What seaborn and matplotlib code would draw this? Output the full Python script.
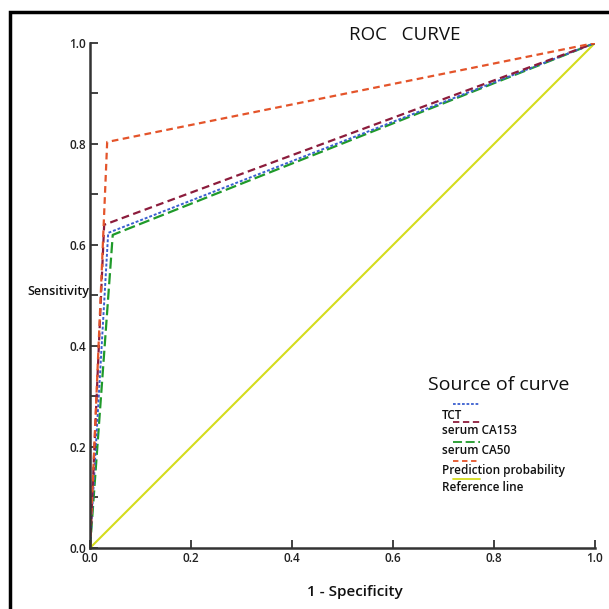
import numpy as np
import pandas as pd
import seaborn as sns
import matplotlib.pyplot as plt
from matplotlib.patches import Rectangle

# ROC points (1 - specificity, sensitivity)
tct_fpr = [0.0, 0.036, 1.0]
tct_tpr = [0.0, 0.624, 1.0]
ca153_fpr = [0.0, 0.028, 1.0]
ca153_tpr = [0.0, 0.640, 1.0]
ca50_fpr = [0.0, 0.045, 1.0]
ca50_tpr = [0.0, 0.620, 1.0]
pred_fpr = [0.0, 0.034, 1.0]
pred_tpr = [0.0, 0.804, 1.0]
ref_fpr = [0.0, 1.0]
ref_tpr = [0.0, 1.0]

names = ["TCT", "serum CA153", "serum CA50", "Prediction probability", "Reference line"]
xticks = [0.0, 0.2, 0.4, 0.6, 0.8, 1.0]
yticks = [0.0, 0.2, 0.4, 0.6, 0.8, 1.0]

sns.set_style("white")
plt.rcParams['font.family'] = ['Open Sans', 'DejaVu Sans']

fig = plt.figure(figsize=(6.09, 6.09), dpi=100)
ax = fig.add_axes([0.1478, 0.1002, 0.8292, 0.8292])

styles = {
    "TCT": ("#3a5fd0", (1.5, 1.0), 1.4),
    "serum CA153": ("#8c1c3c", (3.5, 2.0), 1.6),
    "serum CA50": ("#1f9a2a", (5.0, 2.0), 1.6),
    "Prediction probability": ("#e4542a", (3.0, 2.0), 1.6),
    "Reference line": ("#d4dc1c", None, 1.5),
}
data = {
    "TCT": (tct_fpr, tct_tpr),
    "serum CA153": (ca153_fpr, ca153_tpr),
    "serum CA50": (ca50_fpr, ca50_tpr),
    "Prediction probability": (pred_fpr, pred_tpr),
    "Reference line": (ref_fpr, ref_tpr),
}

for nm in ["Reference line", "serum CA50", "TCT", "serum CA153", "Prediction probability"]:
    c, d, lw = styles[nm]
    df = pd.DataFrame({"x": data[nm][0], "y": data[nm][1]})
    line = sns.lineplot(data=df, x="x", y="y", ax=ax, color=c, linewidth=lw,
                        sort=False, estimator=None).lines[-1]
    if d is not None:
        line.set_dashes(d)

ax.set_xlim(0, 1.0)
ax.set_ylim(0, 1.0)
ax.set_xticks(xticks)
ax.set_yticks(yticks)
ax.set_yticks(np.arange(0.1, 1.0, 0.2), minor=True)
ax.set_xticklabels([f"{v:.1f}" for v in xticks], fontsize=8.5, color="#222222",
                   fontweight="semibold")
ax.set_yticklabels([f"{v:.1f}" for v in yticks], fontsize=8.5, color="#222222",
                   fontweight="semibold")
ax.tick_params(axis="both", which="both", direction="in", length=6, width=1.3,
               color="#333333", left=True, bottom=True, pad=3)
ax.set_xlabel("")
ax.set_ylabel("")
for s in ["top", "right"]:
    ax.spines[s].set_visible(False)
for s in ["left", "bottom"]:
    ax.spines[s].set_color("#333333")
    ax.spines[s].set_linewidth(1.8)

# legend drawn by hand: line sits above each label like the original
ax.text(0.669, 0.323, "Source of curve", transform=ax.transAxes, fontsize=14,
        va="center", ha="left", color="#111111")
text_y = [0.263, 0.232, 0.194, 0.154, 0.119]
line_y = [0.285, 0.250, 0.210, 0.172, 0.137]
for nm, ty, ly in zip(names, text_y, line_y):
    c, d, lw = styles[nm]
    h, = ax.plot([0.719, 0.772], [ly, ly], transform=ax.transAxes, color=c,
                 linewidth=1.3, clip_on=False)
    if d is not None:
        h.set_dashes(d)
    ax.text(0.697, ty, nm, transform=ax.transAxes, fontsize=8.5,
            fontweight="semibold", va="center", ha="left", color="#111111")

fig.text(405 / 609, 1 - 35 / 609, "ROC   CURVE", fontsize=13.5, ha="center",
         va="center", color="#111111", fontweight="medium")
fig.text(89 / 609, 1 - 291 / 609, "Sensitivity", fontsize=9, fontweight="semibold",
         ha="right", va="center", color="#111111")
fig.text(355 / 609, 1 - 592 / 609, "1 - Specificity", fontsize=11,
         fontweight="semibold", ha="center", va="center", color="#111111")

fig.patches.append(Rectangle((10 / 609, -0.1), 1.2, 1.1 - 12 / 609,
                             transform=fig.transFigure, fill=False,
                             edgecolor="black", linewidth=2.5))

fig.savefig("out.png", dpi=100)
